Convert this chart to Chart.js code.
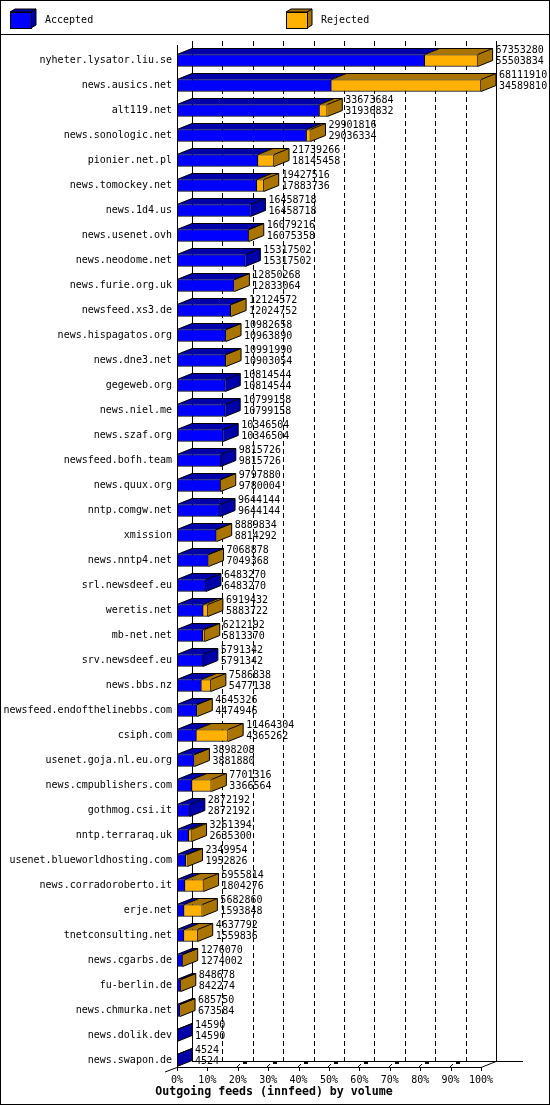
<!DOCTYPE html>
<html>
<head>
<meta charset="utf-8">
<script src="https://cdn.jsdelivr.net/npm/chart.js@4.4.0/dist/chart.umd.min.js"></script>
<style>
html,body{margin:0;padding:0;background:#fff}
canvas{display:block}
</style>
</head>
<body>
<canvas id="feeds" width="550" height="1105"></canvas>
<script>
// feeds, top to bottom
const hosts = [
  'nyheter.lysator.liu.se','news.ausics.net','alt119.net','news.sonologic.net','pionier.net.pl',
  'news.tomockey.net','news.1d4.us','news.usenet.ovh','news.neodome.net','news.furie.org.uk',
  'newsfeed.xs3.de','news.hispagatos.org','news.dne3.net','gegeweb.org','news.niel.me',
  'news.szaf.org','newsfeed.bofh.team','news.quux.org','nntp.comgw.net','xmission',
  'news.nntp4.net','srl.newsdeef.eu','weretis.net','mb-net.net','srv.newsdeef.eu',
  'news.bbs.nz','newsfeed.endofthelinebbs.com','csiph.com','usenet.goja.nl.eu.org','news.cmpublishers.com',
  'gothmog.csi.it','nntp.terraraq.uk','usenet.blueworldhosting.com','news.corradoroberto.it','erje.net',
  'tnetconsulting.net','news.cgarbs.de','fu-berlin.de','news.chmurka.net','news.dolik.dev',
  'news.swapon.de'
];
// upper number next to each bar
const offered = [
  67353280, 68111910, 33673684, 29901816, 21739266,
  19427516, 16458718, 16079216, 15317502, 12850268,
  12124572, 10982658, 10991990, 10814544, 10799158,
  10346504, 9815726, 9797880, 9644144, 8889834,
  7068878, 6483270, 6919432, 6212192, 5791342,
  7586838, 4545326, 11464304, 3898208, 7701316,
  2872192, 3261394, 2349954, 5955814, 5682860,
  4637792, 1276070, 848678, 685750, 14590,
  4524
];
// lower number next to each bar
const accepted = [
  55503834, 34589810, 31936832, 29036334, 18145458,
  17883736, 16458718, 16075358, 15317502, 12833064,
  12024752, 10963890, 10903054, 10814544, 10799158,
  10346504, 9815726, 9780004, 9644144, 8814292,
  7049368, 6483270, 5883722, 5813370, 5791342,
  5477138, 4474946, 4365262, 3881880, 3366564,
  2872192, 2635300, 1952826, 1804276, 1593848,
  1559836, 1274002, 842274, 673584, 14590,
  4524
];
const rejected = [
  11849446, 33522100, 1736852, 865482, 3593808,
  1543780, 0, 3858, 0, 17204,
  99820, 18768, 88936, 0, 0,
  0, 0, 17876, 0, 75542,
  19510, 0, 1035710, 398822, 0,
  2109700, 70380, 7099042, 16328, 4334752,
  0, 626094, 397128, 4151538, 4089012,
  3077956, 2068, 6404, 12166, 0,
  0
];
const seriesNames = ['Accepted', 'Rejected'];
const frontColors = ['#0000ff', '#ffb000'];
const darkColors = ['#0000aa', '#aa7400'];
const xTitle = 'Outgoing feeds (innfeed) by volume';

const DX = 15, DY = 6;
const mono = '"DejaVu Sans Mono", "Liberation Mono", monospace';
const maxVal = Math.max(...offered);

function poly(ctx, pts, fill) {
  ctx.beginPath();
  ctx.moveTo(pts[0][0], pts[0][1]);
  for (let k = 1; k < pts.length; k++) ctx.lineTo(pts[k][0], pts[k][1]);
  ctx.closePath();
  if (fill) { ctx.fillStyle = fill; ctx.fill(); }
  ctx.stroke();
}
function line(ctx, x0, y0, x1, y1) {
  ctx.beginPath();
  ctx.moveTo(x0, y0);
  ctx.lineTo(x1, y1);
  ctx.stroke();
}

// white page, frame, back wall and dashed grid
const backPlugin = {
  id: 'back',
  beforeDraw(chart) {
    const {ctx, width, height} = chart;
    ctx.save();
    ctx.fillStyle = '#fff';
    ctx.fillRect(0, 0, width, height);
    ctx.restore();
  },
  beforeDatasetsDraw(chart) {
    const {ctx, chartArea: a, scales: {x, y}} = chart;
    const floorF = Math.round(y.getPixelForValue(hosts.length - 1)) + 6;
    const floorB = floorF - DY;
    const topB = Math.round(a.top) - 7;
    ctx.save();
    ctx.strokeStyle = '#000';
    ctx.lineWidth = 1;
    x.ticks.forEach((t, k) => {
      const px = Math.round(x.getPixelForValue(t.value)) + DX + 0.5;
      ctx.setLineDash(k === 0 || k === x.ticks.length - 1 ? [] : [5, 3]);
      line(ctx, px, topB, px, floorB);
    });
    ctx.setLineDash([]);
    // floor
    const x0 = Math.round(x.getPixelForValue(0));
    const x1 = Math.round(x.getPixelForValue(maxVal));
    line(ctx, x0 + DX, floorB + 0.5, x1 + DX + 27, floorB + 0.5);
    x.ticks.forEach((t, k) => {
      if (k < 2 || k > 9) return;
      const px = Math.round(x.getPixelForValue(t.value));
      line(ctx, px - 1, floorF, px + 2, floorF - 3);
      ctx.fillStyle = '#000';
      ctx.fillRect(px + 5, floorB + 1, 4, 2);
    });
    ctx.restore();
  },
  afterDatasetsDraw(chart) {
    const {ctx, chartArea: a, scales: {x, y}} = chart;
    const m0 = chart.getDatasetMeta(0), m1 = chart.getDatasetMeta(1);
    ctx.save();
    ctx.strokeStyle = '#000';
    ctx.lineWidth = 1;
    ctx.lineJoin = 'miter';
    hosts.forEach((h, i) => {
      const acc = m0.data[i], rej = m1.data[i];
      const yt = acc.y - acc.height / 2, yb = acc.y + acc.height / 2;
      const last = rejected[i] > 0 ? 1 : 0;
      const xe = last ? rej.x : acc.x;
      const segs = [[acc.base, acc.x, 0], [rej.base, rej.x, 1]];
      ctx.save();
      ctx.strokeStyle = 'rgba(0,0,0,0)';
      segs.forEach(([s0, s1, k]) => {
        if (s1 - s0 <= 0) return;
        poly(ctx, [[s0, yt], [s0 + DX, yt - DY], [s1 + DX, yt - DY], [s1, yt]], darkColors[k]);
      });
      poly(ctx, [[xe, yt], [xe + DX, yt - DY], [xe + DX, yb - DY], [xe, yb]], darkColors[last]);
      ctx.restore();
      ctx.beginPath();
      ctx.moveTo(acc.base, yt);
      ctx.lineTo(acc.base + DX, yt - DY);
      ctx.lineTo(xe + DX, yt - DY);
      ctx.lineTo(xe + DX, yb - DY);
      ctx.lineTo(xe, yb);
      ctx.stroke();
      line(ctx, xe, yt, xe + DX, yt - DY);
      if (last && acc.x > acc.base) line(ctx, acc.x, yt, acc.x + DX, yt - DY);
      // values
      ctx.fillStyle = '#000';
      ctx.font = '10px ' + mono;
      ctx.textAlign = 'left';
      ctx.textBaseline = 'middle';
      ctx.fillText(String(offered[i]), xe + DX + 3, acc.y - 10);
      ctx.fillText(String(accepted[i]), xe + DX + 3, acc.y + 1);
    });
    // front left axis and front floor
    const floorF = Math.round(y.getPixelForValue(hosts.length - 1)) + 6;
    const x0 = Math.round(x.getPixelForValue(0));
    const x1 = Math.round(x.getPixelForValue(maxVal));
    line(ctx, x0 + 0.5, Math.round(a.top) - 3, x0 + 0.5, floorF + 1);
    line(ctx, x0 - 12, floorF + 5, x0, floorF + 0.5);
    line(ctx, x0, floorF + 0.5, x1, floorF + 0.5);
    line(ctx, x1, floorF + 0.5, x1 + DX, floorF - DY + 0.5);
    x.ticks.forEach(t => {
      const px = Math.round(x.getPixelForValue(t.value)) + 0.5;
      line(ctx, px, floorF, px, floorF + 4);
    });
    ctx.restore();
  },
  afterDraw(chart) {
    const {ctx, width, height} = chart;
    ctx.save();
    ctx.strokeStyle = '#000';
    ctx.lineWidth = 1;
    ctx.strokeRect(0.5, 0.5, width - 1, height - 1);
    line(ctx, 0, 34.5, width, 34.5);
    // legend with little cubes
    chart.data.datasets.forEach((ds, k) => {
      const lx = 10 + k * 276;
      poly(ctx, [[lx + 21, 12], [lx + 26, 9], [lx + 26, 25], [lx + 21, 28]], darkColors[k]);
      poly(ctx, [[lx, 12], [lx + 5, 9], [lx + 26, 9], [lx + 21, 12]], darkColors[k]);
      ctx.fillStyle = ds.backgroundColor;
      ctx.fillRect(lx, 12, 21, 16);
      ctx.strokeRect(lx + 0.5, 12.5, 21, 16);
      ctx.fillStyle = '#000';
      ctx.font = '10px ' + mono;
      ctx.textBaseline = 'middle';
      ctx.textAlign = 'left';
      ctx.fillText(ds.label, lx + 35, 20);
    });
    // axis title
    ctx.font = 'bold 11.6px ' + mono;
    ctx.textAlign = 'center';
    ctx.textBaseline = 'middle';
    ctx.fillText(chart.options.plugins.title.text, 274, 1092);
    ctx.restore();
  }
};

const ctx = document.getElementById('feeds').getContext('2d');
const chart = new Chart(ctx, {
  type: 'bar',
  data: {
    labels: hosts,
    datasets: [
      {label: seriesNames[0], data: accepted, backgroundColor: frontColors[0],
       borderColor: '#000', borderWidth: 1, barThickness: 12},
      {label: seriesNames[1], data: rejected, backgroundColor: frontColors[1],
       borderColor: '#000', borderWidth: 1, barThickness: 12}
    ]
  },
  options: {
    indexAxis: 'y',
    responsive: false,
    animation: false,
    devicePixelRatio: 1,
    layout: {padding: {left: 0, right: 69, top: 48, bottom: 0}},
    plugins: {
      legend: {display: false},
      tooltip: {enabled: false},
      title: {display: false, text: xTitle}
    },
    scales: {
      x: {
        stacked: true, min: 0, max: maxVal,
        grid: {display: false, drawTicks: false},
        border: {display: false},
        ticks: {
          stepSize: maxVal / 10, autoSkip: false, maxRotation: 0,
          color: '#000', font: {family: mono, size: 10}, padding: 1,
          callback: v => Math.round(v / maxVal * 100) + '%'
        },
        afterFit: s => { s.height = 32; }
      },
      y: {
        stacked: true,
        grid: {display: false, drawTicks: false},
        border: {display: false},
        ticks: {autoSkip: false, color: '#000', font: {family: mono, size: 10}, padding: 5},
        afterFit: s => { s.width = 177; }
      }
    }
  },
  plugins: [backPlugin]
});
</script>
</body>
</html>
